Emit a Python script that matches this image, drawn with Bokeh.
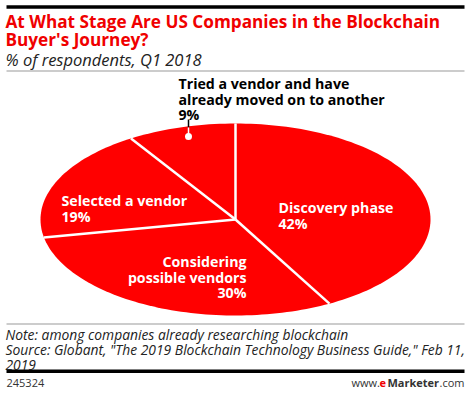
import math
from bokeh.plotting import figure
from bokeh.models import Range1d
from bokeh.core.properties import value
from bokeh.embed import file_html
from bokeh.resources import INLINE

# ---- data ----
categories = ["Discovery phase", "Considering\npossible vendors", "Selected a vendor",
              "Tried a vendor and have\nalready moved on to another"]
shares = [42, 30, 19, 9]

title_lines = ["At What Stage Are US Companies in the Blockchain", "Buyer's Journey?"]
subtitle = "% of respondents, Q1 2018"
note_lines = ["Note: among companies already researching blockchain",
              "Source: Globant, \"The 2019 Blockchain Technology Business Guide,\" Feb 11,",
              "2019"]
chart_id = "245324"

W, H = 471, 393
RED = "#f00000"
FONT = "Open Sans"

p = figure(width=W, height=H, output_backend="svg", toolbar_location=None,
           x_range=Range1d(0, W), y_range=Range1d(H, 0),
           min_border=0, outline_line_color=None)
p.axis.visible = False
p.grid.visible = False

def txt(x, y, s, color="#222222", size="13px", style="normal", align="left"):
    p.text(x=[x], y=[y], text=[s], text_color=color, text_font=value(FONT),
           text_font_style=style, text_font_size=size, text_baseline="middle",
           text_align=align)

# rules
p.line(x=[6, 464], y=[6.5, 6.5], line_color="black", line_width=3.5)
p.quad(left=[6], right=[464], top=[369], bottom=[372.5], fill_color="black", line_color=None)
p.quad(left=[6, 6], right=[464, 464], top=[70, 323], bottom=[71, 324],
       fill_color="#9a9a9a", line_color=None)

# title
for i, t in enumerate(title_lines):
    txt(5, 20.5 + 18 * i, t, color=RED, size="17.2px", style="bold")
txt(5, 58.5, subtitle, color="#222222", size="16.5px", style="italic")

# ---- elliptical pie ----
cx, cy, ra, rb = 235, 219, 195, 96
total = float(sum(shares))
xs, ys, bx, by = [], [], [], []
cum = 0.0
for s in shares:
    t0 = cum / total * 2 * math.pi
    cum += s
    t1 = cum / total * 2 * math.pi
    n = max(4, int(240 * s / total))
    px = [cx]
    py = [cy]
    for i in range(n + 1):
        t = t0 + (t1 - t0) * i / n
        px.append(cx + ra * math.sin(t))
        py.append(cy - rb * math.cos(t))
    xs.append(px)
    ys.append(py)
    bx.append(cx + ra * math.sin(t0))
    by.append(cy - rb * math.cos(t0))
p.patches(xs=xs, ys=ys, fill_color="#ff0000", line_color=None)
p.segment(x0=[cx] * len(bx), y0=[cy] * len(by), x1=bx, y1=by, line_color="white", line_width=2.5)

# labels (one text per line)
lab_x = [278, 246, 61, 178]
lab_y0 = [207, 261, 200, 83]
lab_align = ["left", "right", "left", "left"]
lab_color = ["white", "white", "white", "black"]
for i, (c, v) in enumerate(zip(categories, shares)):
    lines = c.split("\n") + [f"{v}%"]
    for j, ln in enumerate(lines):
        txt(lab_x[i], lab_y0[i] + 15.5 * j, ln, color=lab_color[i], size="14.2px",
            style="bold", align=lab_align[i])

# leader for small slice
p.segment(x0=[188], y0=[119], x1=[188], y1=[127], line_color="black", line_width=1.5)
p.segment(x0=[188], y0=[127], x1=[188], y1=[136], line_color="white", line_width=1.5)
p.scatter(x=[188], y=[136], size=7, fill_color="white", line_color=None)

# footer
for i, t in enumerate(note_lines):
    txt(5, 334 + 15 * i, t, color="#222222", size="13.85px", style="italic")
txt(6, 382, chart_id, color="#333333", size="11px")
txt(351, 382, "www.", color="#333333", size="11px")
txt(379, 382, "e", color=RED, size="11px", style="bold")
txt(387, 382, "Marketer", color="#333333", size="11px", style="bold")
txt(464, 382, ".com", color="#333333", size="11px", align="right")

open("out.html", "w").write(file_html(p, INLINE))
